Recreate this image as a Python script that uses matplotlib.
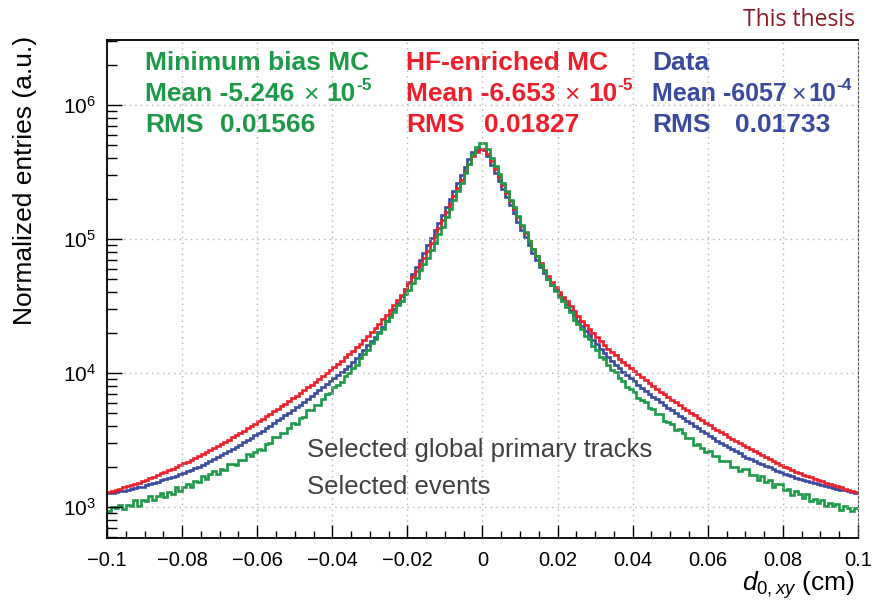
import numpy as np
import matplotlib
matplotlib.use("Agg")
import matplotlib.pyplot as plt
from matplotlib.ticker import MultipleLocator, FixedLocator, FuncFormatter, LogLocator, NullFormatter

plt.rcParams['font.family'] = ['Liberation Sans', 'DejaVu Sans']
plt.rcParams['mathtext.fontset'] = 'custom'
plt.rcParams['mathtext.rm'] = 'Liberation Sans'
plt.rcParams['mathtext.it'] = 'Liberation Sans:italic'
plt.rcParams['mathtext.bf'] = 'Liberation Sans:bold'

# d0,xy histogram, 200 bins in [-0.1, 0.1] cm
# values are log10(normalized entries)
# *_neg: bins from -0.1 up to 0, *_pos: bins from 0 up to 0.1
red_neg = [3.114, 3.122, 3.130, 3.138, 3.147, 3.155, 3.164, 3.173, 3.182, 3.191,
           3.203, 3.215, 3.227, 3.239, 3.252, 3.263, 3.274, 3.286, 3.298, 3.311,
           3.325, 3.339, 3.353, 3.367, 3.381, 3.396, 3.411, 3.426, 3.441, 3.456,
           3.471, 3.487, 3.503, 3.519, 3.535, 3.552, 3.569, 3.586, 3.603, 3.621,
           3.639, 3.657, 3.676, 3.695, 3.714, 3.733, 3.752, 3.771, 3.791, 3.811,
           3.831, 3.851, 3.872, 3.893, 3.914, 3.936, 3.958, 3.980, 4.003, 4.026,
           4.048, 4.070, 4.093, 4.117, 4.141, 4.166, 4.192, 4.219, 4.247, 4.276,
           4.306, 4.337, 4.369, 4.402, 4.436, 4.471, 4.507, 4.544, 4.582, 4.624,
           4.669, 4.718, 4.764, 4.812, 4.862, 4.914, 4.968, 5.024, 5.082, 5.141,
           5.201, 5.261, 5.321, 5.381, 5.441, 5.501, 5.561, 5.618, 5.650, 5.675]
red_pos = [5.675, 5.637, 5.583, 5.521, 5.461, 5.401, 5.341, 5.281, 5.221, 5.161,
           5.101, 5.042, 4.984, 4.928, 4.874, 4.822, 4.772, 4.724, 4.678, 4.639,
           4.602, 4.567, 4.534, 4.497, 4.461, 4.426, 4.392, 4.359, 4.327, 4.296,
           4.266, 4.237, 4.209, 4.182, 4.156, 4.131, 4.107, 4.083, 4.060, 4.038,
           4.016, 3.993, 3.970, 3.948, 3.926, 3.904, 3.883, 3.862, 3.841, 3.821,
           3.801, 3.781, 3.761, 3.742, 3.723, 3.704, 3.685, 3.666, 3.647, 3.629,
           3.611, 3.593, 3.576, 3.559, 3.542, 3.525, 3.509, 3.493, 3.477, 3.461,
           3.446, 3.431, 3.416, 3.401, 3.386, 3.371, 3.357, 3.343, 3.329, 3.315,
           3.301, 3.288, 3.276, 3.264, 3.253, 3.242, 3.231, 3.221, 3.211, 3.201,
           3.191, 3.182, 3.173, 3.164, 3.155, 3.147, 3.138, 3.130, 3.122, 3.114]

blue_neg = [3.102, 3.107, 3.112, 3.117, 3.123, 3.129, 3.135, 3.141, 3.147, 3.153,
            3.162, 3.171, 3.181, 3.190, 3.200, 3.208, 3.216, 3.225, 3.234, 3.244,
            3.256, 3.267, 3.278, 3.289, 3.299, 3.314, 3.329, 3.344, 3.359, 3.371,
            3.386, 3.402, 3.418, 3.434, 3.448, 3.465, 3.482, 3.499, 3.516, 3.534,
            3.552, 3.570, 3.589, 3.608, 3.627, 3.646, 3.665, 3.684, 3.704, 3.724,
            3.744, 3.764, 3.785, 3.806, 3.827, 3.849, 3.871, 3.893, 3.916, 3.939,
            3.961, 3.983, 4.006, 4.030, 4.054, 4.082, 4.111, 4.141, 4.172, 4.206,
            4.239, 4.272, 4.309, 4.347, 4.386, 4.431, 4.477, 4.524, 4.572, 4.624,
            4.679, 4.738, 4.789, 4.842, 4.897, 4.954, 5.008, 5.064, 5.122, 5.181,
            5.241, 5.301, 5.361, 5.421, 5.481, 5.541, 5.601, 5.648, 5.665, 5.670]
blue_pos = [5.665, 5.617, 5.553, 5.491, 5.431, 5.371, 5.311, 5.251, 5.191, 5.131,
            5.071, 5.012, 4.954, 4.898, 4.844, 4.792, 4.747, 4.704, 4.660, 4.623,
            4.587, 4.549, 4.512, 4.471, 4.431, 4.392, 4.354, 4.317, 4.281, 4.246,
            4.213, 4.181, 4.150, 4.120, 4.091, 4.063, 4.037, 4.011, 3.986, 3.963,
            3.940, 3.913, 3.890, 3.868, 3.846, 3.824, 3.803, 3.782, 3.761, 3.741,
            3.721, 3.701, 3.681, 3.662, 3.643, 3.624, 3.605, 3.586, 3.567, 3.549,
            3.531, 3.513, 3.496, 3.479, 3.462, 3.445, 3.432, 3.416, 3.400, 3.384,
            3.369, 3.357, 3.344, 3.332, 3.319, 3.306, 3.295, 3.283, 3.272, 3.260,
            3.248, 3.238, 3.228, 3.219, 3.210, 3.201, 3.193, 3.185, 3.178, 3.170,
            3.162, 3.156, 3.149, 3.143, 3.136, 3.130, 3.124, 3.118, 3.112, 3.106]

green_neg = [2.972, 2.998, 2.989, 3.013, 2.987, 3.016, 3.008, 3.053, 3.011, 3.054,
             3.044, 3.079, 3.052, 3.081, 3.105, 3.074, 3.111, 3.100, 3.146, 3.116,
             3.147, 3.173, 3.146, 3.195, 3.187, 3.232, 3.206, 3.244, 3.266, 3.246,
             3.284, 3.279, 3.318, 3.320, 3.316, 3.354, 3.354, 3.392, 3.378, 3.409,
             3.436, 3.428, 3.469, 3.475, 3.522, 3.521, 3.554, 3.552, 3.591, 3.625,
             3.622, 3.663, 3.671, 3.721, 3.726, 3.763, 3.765, 3.808, 3.842, 3.848,
             3.895, 3.914, 3.935, 3.979, 4.000, 4.039, 4.059, 4.110, 4.142, 4.170,
             4.224, 4.251, 4.297, 4.327, 4.385, 4.418, 4.454, 4.507, 4.537, 4.590,
             4.622, 4.669, 4.710, 4.767, 4.814, 4.861, 4.922, 4.973, 5.034, 5.092,
             5.164, 5.227, 5.289, 5.360, 5.418, 5.493, 5.559, 5.636, 5.685, 5.720]
green_pos = [5.720, 5.674, 5.605, 5.542, 5.485, 5.419, 5.362, 5.293, 5.237, 5.173,
             5.108, 5.053, 4.984, 4.927, 4.872, 4.807, 4.761, 4.705, 4.660, 4.610,
             4.566, 4.538, 4.490, 4.458, 4.399, 4.369, 4.330, 4.273, 4.251, 4.201,
             4.171, 4.121, 4.105, 4.062, 4.021, 4.005, 3.961, 3.940, 3.893, 3.879,
             3.859, 3.814, 3.799, 3.787, 3.736, 3.730, 3.697, 3.695, 3.642, 3.635,
             3.621, 3.573, 3.579, 3.550, 3.516, 3.518, 3.466, 3.470, 3.444, 3.408,
             3.417, 3.380, 3.381, 3.340, 3.346, 3.343, 3.302, 3.301, 3.272, 3.285,
             3.281, 3.237, 3.239, 3.203, 3.232, 3.189, 3.199, 3.153, 3.172, 3.170,
             3.125, 3.134, 3.092, 3.123, 3.095, 3.069, 3.096, 3.043, 3.058, 3.030,
             3.052, 3.005, 3.031, 3.009, 3.024, 2.979, 3.005, 2.994, 2.971, 2.992]

series_names = ["Minimum bias MC", "HF-enriched MC", "Data"]
series_mean = ["-5.246", "-6.653", "-6057"]
series_mean_exp = ["-5", "-5", "-4"]
series_rms = ["0.01566", "0.01827", "0.01733"]

GREEN = '#1c9a48'
RED = '#ee1f2a'
BLUE = '#3a4a9e'

n_bins = 200
edges = np.linspace(-0.1, 0.1, n_bins + 1)

fig = plt.figure(figsize=(8.72, 6.09), dpi=100)
ax = fig.add_axes([107/872, 1 - 538/609, 751/872, 498/609])

for neg, pos, col in [(blue_neg, blue_pos, BLUE), (red_neg, red_pos, RED), (green_neg, green_pos, GREEN)]:
    vals = 10 ** np.array(neg + pos)
    ax.stairs(vals, edges, baseline=None, color=col, linewidth=1.9)

ax.set_yscale('log')
ax.set_xlim(-0.1, 0.1)
ax.set_ylim(587, 3.06e6)


def xfmt(v, p):
    v = round(v, 3)
    if v == 0:
        return '0'
    return ('%g' % v).replace('-', '\u2212')


ax.xaxis.set_major_locator(MultipleLocator(0.02))
ax.xaxis.set_minor_locator(MultipleLocator(0.005))
ax.xaxis.set_major_formatter(FuncFormatter(xfmt))
ax.yaxis.set_major_locator(FixedLocator([1e3, 1e4, 1e5, 1e6]))
ax.yaxis.set_major_formatter(FuncFormatter(lambda v, p: r'$10^{%d}$' % round(np.log10(v))))
ax.yaxis.set_minor_locator(LogLocator(base=10, subs=np.arange(2, 10)))
ax.yaxis.set_minor_formatter(NullFormatter())

ax.tick_params(axis='x', which='major', direction='in', length=9.5, width=1.0, labelsize=14.5, pad=9)
ax.tick_params(axis='x', which='minor', direction='in', length=5, width=1.0)
ax.tick_params(axis='y', which='major', direction='in', length=11, width=1.0, labelsize=15, pad=8)
ax.tick_params(axis='y', which='minor', direction='in', length=7.5, width=1.0)

ax.grid(True, which='major', linestyle=(0, (1, 3)), color='#b5b5b5', linewidth=1.0)
for s in ['left', 'bottom', 'top']:
    ax.spines[s].set_linewidth(1.3)
ax.spines['right'].set_linestyle((0, (2, 2)))
ax.spines['right'].set_color('#555555')

renderer = fig.canvas.get_renderer()


def put_parts(x_px, y_px, parts, color):
    # pieces placed one after another: (text, size, weight, raise, gap after)
    x = x_px
    for txt, size, weight, dy, gap in parts:
        t = fig.text(x / 872, 1 - (y_px - dy) / 609, txt, color=color, fontsize=size,
                     fontweight=weight, va='center')
        x += t.get_window_extent(renderer).width + gap


# stat box texts (pixel positions from the top-left corner)
cols_x = [145, 406, 652]
gaps = [9, 9, 4]
mean_size = [19, 19, 18]
rms_val_x = [220, 484, 735]
for i, c in enumerate([GREEN, RED, BLUE]):
    x0 = cols_x[i] / 872
    g = gaps[i]
    s = mean_size[i]
    fig.text(x0, 1 - 63/609, series_names[i], color=c, fontsize=19, fontweight='bold', va='center')
    put_parts(cols_x[i], 94, [('Mean %s' % series_mean[i], s, 'bold', 0, g),
                              ('\u00d7', s, 'normal', -1, g - 1),
                              ('10', s, 'bold', 0, 0),
                              (series_mean_exp[i], 12.5, 'bold', 9, 0)], c)
    fig.text(x0, 1 - 125/609, 'RMS', color=c, fontsize=19, fontweight='bold', va='center')
    fig.text(rms_val_x[i] / 872, 1 - 125/609, series_rms[i], color=c, fontsize=19, fontweight='bold', va='center')

fig.text(307/872, 1 - 450/609, 'Selected global primary tracks', color='#404040', fontsize=18.5, va='center')
fig.text(307/872, 1 - 487/609, 'Selected events', color='#404040', fontsize=18.5, va='center')

fig.text(855/872, 1 - 20/609, 'This thesis', color='#8e1b25', fontsize=16.5, family=['Open Sans', 'DejaVu Sans'],
         ha='right', va='center')

fig.text(25/872, 1 - 180/609, 'Normalized entries (a.u.)', rotation=90, fontsize=19, ha='center', va='center')
fig.text(855/872, 1 - 585/609, r'$\mathit{d}_{\mathit{0,xy}}$ (cm)', fontsize=19, ha='right', va='center')

fig.savefig('out.png', dpi=100)
